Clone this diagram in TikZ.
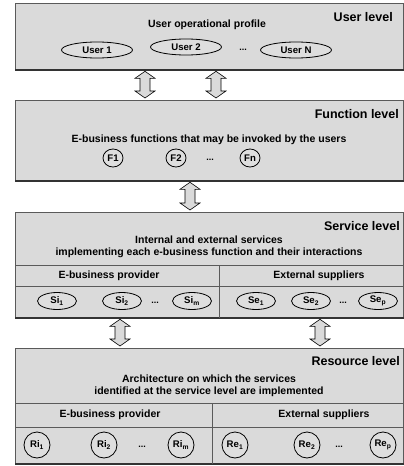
\documentclass[tikz,border=0pt]{standalone}
\usepackage{fontspec}
\setmainfont{Liberation Sans}
\usetikzlibrary{shapes.geometric,calc}
\definecolor{layergray}{HTML}{DADADA}
\definecolor{ovalgray}{HTML}{DEDEDE}
\definecolor{edgegray}{HTML}{5A5A5A}
\newcommand{\bidiarrow}[2]{%
  \draw[blockarrow] ($(#1)+(-5,7)$) -- ($(#1)+(-10,7)$) -- (#1) -- ($(#1)+(10,7)$) -- ($(#1)+(5,7)$)
    -- ($(#2)+(5,-7)$) -- ($(#2)+(10,-7)$) -- (#2) -- ($(#2)+(-10,-7)$) -- ($(#2)+(-5,-7)$) -- cycle;}
\newcommand{\sub}[1]{\textsubscript{#1}}
\begin{document}
\begin{tikzpicture}[x=1pt,y=-1pt,
  layer/.style={draw=edgegray, line width=0.8pt, fill=layergray, anchor=north west, inner sep=0pt},
  bottomline/.style={draw=black!80, line width=1.6pt},
  innerline/.style={draw=edgegray, line width=0.7pt},
  hdr/.style={font=\fontsize{12.5}{15}\selectfont\bfseries, anchor=east, inner sep=0pt},
  body/.style={font=\fontsize{10.5}{11.6}\selectfont\bfseries, align=center, inner sep=0pt},
  subhdr/.style={font=\fontsize{10.5}{12}\selectfont\bfseries, inner sep=0pt},
  oval/.style={ellipse, draw=black, line width=0.8pt, fill=ovalgray, inner sep=0pt,
    font=\fontsize{9.6}{10}\selectfont\bfseries},
  useroval/.style={oval, minimum width=71, minimum height=16},
  svcoval/.style={oval, minimum width=39, minimum height=17},
  fcirc/.style={oval, minimum width=20, minimum height=18},
  rcirc/.style={oval, minimum width=26, minimum height=26},
  dots/.style={font=\fontsize{9}{10}\selectfont\bfseries, inner sep=0pt},
  blockarrow/.style={draw=black, line width=0.6pt, fill=layergray, line join=miter}
]
\useasboundingbox (0,0) rectangle (404,466);

% ---------- layers ----------
\node[layer, minimum width=388, minimum height=66] (L1) at (15,3) {};
\node[layer, minimum width=388, minimum height=80] (L2) at (15,100) {};
\node[layer, minimum width=388, minimum height=105] (L3) at (15,212) {};
\node[layer, minimum width=388, minimum height=115] (L4) at (15,348) {};
\foreach \l in {L1,L2,L3,L4}{\draw[bottomline] (\l.south west) -- (\l.south east);}

% ---------- user level ----------
\node[hdr] (h1) at (393,17) {User level};
\node[body] (t1) at (207,25) {User operational profile};
\node[useroval] (u1) at (97,50) {User 1};
\node[useroval] (u2) at (186,47) {User 2};
\node[dots] (ud) at (243,50) {...};
\node[useroval] (uN) at (296,50) {User N};

% ---------- function level ----------
\node[hdr] (h2) at (399,114) {Function level};
\node[body] (t2) at (209,140) {E-business functions that may be invoked by the users};
\node[fcirc] (f1) at (113,158) {F1};
\node[fcirc] (f2) at (176,158) {F2};
\node[dots] (fd) at (210,160) {...};
\node[fcirc] (fn) at (250,158) {Fn};

% ---------- service level ----------
\node[hdr] (h3) at (400,226) {Service level};
\node[body] (t3) at (209,247) {Internal and external services\\implementing each e-business function and their interactions};
\coordinate (s1) at (15,265);
\coordinate (s2) at (15,286);
\coordinate (sdx) at (219,0);
\draw[innerline] (s1) -- (s1 -| L3.east);
\draw[innerline] (s2) -- (s2 -| L3.east);
\draw[innerline] (s1 -| sdx) -- (L3.south -| sdx);
\node[subhdr] (p3) at (109,276) {E-business provider};
\node[subhdr] (e3) at (319,276) {External suppliers};
\node[svcoval] (si1) at (57,301) {Si\sub{1}};
\node[svcoval] (si2) at (122,301) {Si\sub{2}};
\node[dots] (sid) at (155,303) {...};
\node[svcoval] (sim) at (192,301) {Si\sub{m}};
\node[svcoval] (se1) at (256,301) {Se\sub{1}};
\node[svcoval] (se2) at (311,301) {Se\sub{2}};
\node[dots] (sed) at (343,303) {...};
\node[svcoval] (sep) at (378,301) {Se\sub{p}};

% ---------- resource level ----------
\node[hdr] (h4) at (400,361) {Resource level};
\node[body] (t4) at (209,386) {Architecture on which the services\\identified at the service level are implemented};
\coordinate (r1) at (15,403);
\coordinate (r2) at (15,427);
\coordinate (rdx) at (212,0);
\draw[innerline] (r1) -- (r1 -| L4.east);
\draw[innerline] (r2) -- (r2 -| L4.east);
\draw[innerline] (r1 -| rdx) -- (L4.south -| rdx);
\node[subhdr] (p4) at (110,415) {E-business provider};
\node[subhdr] (e4) at (324,415) {External suppliers};
\node[rcirc] (ri1) at (37,445) {Ri\sub{1}};
\node[rcirc] (ri2) at (104,445) {Ri\sub{2}};
\node[dots] (rid) at (142,447) {...};
\node[rcirc] (rim) at (181,445) {Ri\sub{m}};
\node[rcirc] (re1) at (235,445) {Re\sub{1}};
\node[rcirc] (re2) at (307,445) {Re\sub{2}};
\node[dots] (red) at (339,447) {...};
\node[rcirc] (rep) at (383,445) {Re\sub{p}};

% ---------- block arrows between levels ----------
\coordinate (ax1) at (145,0);
\coordinate (ax2) at (216,0);
\coordinate (ax3) at (190,0);
\coordinate (ax4) at (120,0);
\coordinate (ax5) at (320,0);
\coordinate (a1t) at ($(L1.south -| ax1)+(0,1.5)$);
\coordinate (a1b) at ($(L2.north -| ax1)+(0,-2)$);
\coordinate (a2t) at ($(L1.south -| ax2)+(0,1.5)$);
\coordinate (a2b) at ($(L2.north -| ax2)+(0,-2)$);
\coordinate (a3t) at ($(L2.south -| ax3)+(0,1.5)$);
\coordinate (a3b) at ($(L3.north -| ax3)+(0,-2)$);
\coordinate (a4t) at ($(L3.south -| ax4)+(0,1.5)$);
\coordinate (a4b) at ($(L4.north -| ax4)+(0,-2)$);
\coordinate (a5t) at ($(L3.south -| ax5)+(0,1.5)$);
\coordinate (a5b) at ($(L4.north -| ax5)+(0,-2)$);
\bidiarrow{a1t}{a1b}
\bidiarrow{a2t}{a2b}
\bidiarrow{a3t}{a3b}
\bidiarrow{a4t}{a4b}
\bidiarrow{a5t}{a5b}
\end{tikzpicture}
\end{document}
